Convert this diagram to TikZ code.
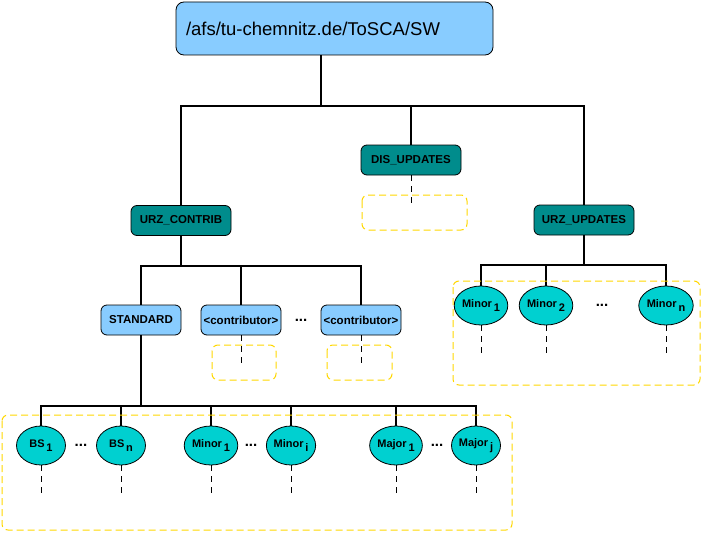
\documentclass[tikz,border=0pt]{standalone}
\usepackage{fontspec}
\setmainfont{Liberation Sans}
\usepackage{xcolor}
\usepackage{tikz}
\usetikzlibrary{positioning, shapes}

\definecolor{dirblue}{RGB}{136,204,255}
\definecolor{dirteal}{RGB}{0,140,140}
\definecolor{vercyan}{RGB}{0,208,208}
\definecolor{subyellow}{RGB}{255,215,0}

\newcommand{\lowidx}[1]{\,\raisebox{-0.7ex}{#1}}

\tikzset{
  every dir/.style={draw, line width=0.8pt, rounded corners=6pt, fill=dirblue,
    minimum width=80pt, minimum height=30pt, inner sep=0pt,
    font=\bfseries\fontsize{11.5}{13}\selectfont},
  dir root/.style={font=\fontsize{18.5}{20}\selectfont, rounded corners=8pt,
    minimum width=317pt, minimum height=53pt, text width=297pt, align=left},
  dir area/.style={fill=dirteal, minimum width=100pt},
  every version/.style={draw, line width=0.8pt, ellipse, fill=vercyan,
    minimum width=49pt, minimum height=39pt, inner sep=0pt,
    font=\bfseries\fontsize{11}{12}\selectfont},
  dots/.style={inner sep=0pt, font=\bfseries\fontsize{15}{15}\selectfont},
  branch/.style={line width=1.6pt},
  continued/.style={line width=0.8pt, dash pattern=on 6pt off 5pt},
  subtree/.style={draw=subyellow, line width=1pt, dash pattern=on 7pt off 4pt,
    rounded corners=6pt}
}

\begin{document}
\begin{tikzpicture}[x=1pt, y=-1pt]
  \useasboundingbox (0,0) rectangle (703,532);

  % directories
  \node [every dir, dir root] (root) at (334.5,28.5) {/afs/tu-chemnitz.de/ToSCA/SW};
  \node [every dir, dir area] (dis) at (411,160) {DIS\_UPDATES};
  \node [every dir, dir area] (contrib) at (181,220.5) {URZ\_CONTRIB};
  \node [every dir, dir area] (updates) at (584,220) {URZ\_UPDATES};

  \foreach \n/\x/\l in {std/141/STANDARD, con-1/241/\textless contributor\textgreater,
                         con-2/361/\textless contributor\textgreater}
    \node [every dir] (\n) at (\x,320) {\l};
  \node [dots] (dots-con) at (301,320) {...};

  % versions below URZ_UPDATES
  \foreach \m/\x in {1/481, 2/546, n/666}
    \node [every version] (upd-\m) at (\x,305.5) {Minor\lowidx{\m}};
  \node [dots] (dots-upd) at (602,305) {...};

  % versions below STANDARD
  \foreach \n/\x/\l in {bs-1/41/BS\lowidx{1}, bs-n/121/BS\lowidx{n},
                         minor-1/211/Minor\lowidx{1}, minor-i/291/Minor\lowidx{i},
                         major-1/396/Major\lowidx{1}, major-j/476/Major\lowidx{j}}
    \node [every version] (\n) at (\x,445.5) {\l};
  \foreach \n/\x in {bs/81, minor/251, major/437}
    \node [dots] (dots-\n) at (\x,445) {...};

  % tree
  \coordinate (bus-root) at (0,106);
  \coordinate (bus-contrib) at (0,266);
  \coordinate (bus-updates) at (0,265);
  \coordinate (bus-std) at (0,406);

  \draw [branch] ([xshift=-13.5pt]root.south) -- ([xshift=-13.5pt]root.south |- bus-root);
  \draw [branch] (contrib.north) |- (updates.north |- bus-root) -- (updates.north);
  \draw [branch] (dis.north) -- (dis.north |- bus-root);

  \draw [branch] (contrib.south) -- (contrib.south |- bus-contrib);
  \draw [branch] (std.north) |- (con-2.north |- bus-contrib) -- (con-2.north);
  \draw [branch] (con-1.north) -- (con-1.north |- bus-contrib);

  \draw [branch] (updates.south) -- (updates.south |- bus-updates);
  \draw [branch] (upd-1.north) |- (upd-n.north |- bus-updates) -- (upd-n.north);
  \draw [branch] (upd-2.north) -- (upd-2.north |- bus-updates);

  \draw [branch] (std.south) -- (std.south |- bus-std);
  \draw [branch] (bs-1.north) |- (major-j.north |- bus-std) -- (major-j.north);
  \foreach \n in {bs-n, minor-1, minor-i, major-1}
    \draw [branch] (\n.north) -- (\n.north |- bus-std);

  % continued below
  \foreach \n in {dis, con-1, con-2, upd-1, upd-2, upd-n,
                  bs-1, bs-n, minor-1, minor-i, major-1, major-j}
    \draw [continued] (\n.south) -- ++(0,30);

  % subtrees
  \draw [subtree] (362,195) rectangle (467,230);
  \draw [subtree] (212,345) rectangle (276,380);
  \draw [subtree] (327,345) rectangle (392,380);
  \draw [subtree] (453,281) rectangle (700,385);
  \draw [subtree] (2,415) rectangle (512,530);

\end{tikzpicture}
\end{document}
